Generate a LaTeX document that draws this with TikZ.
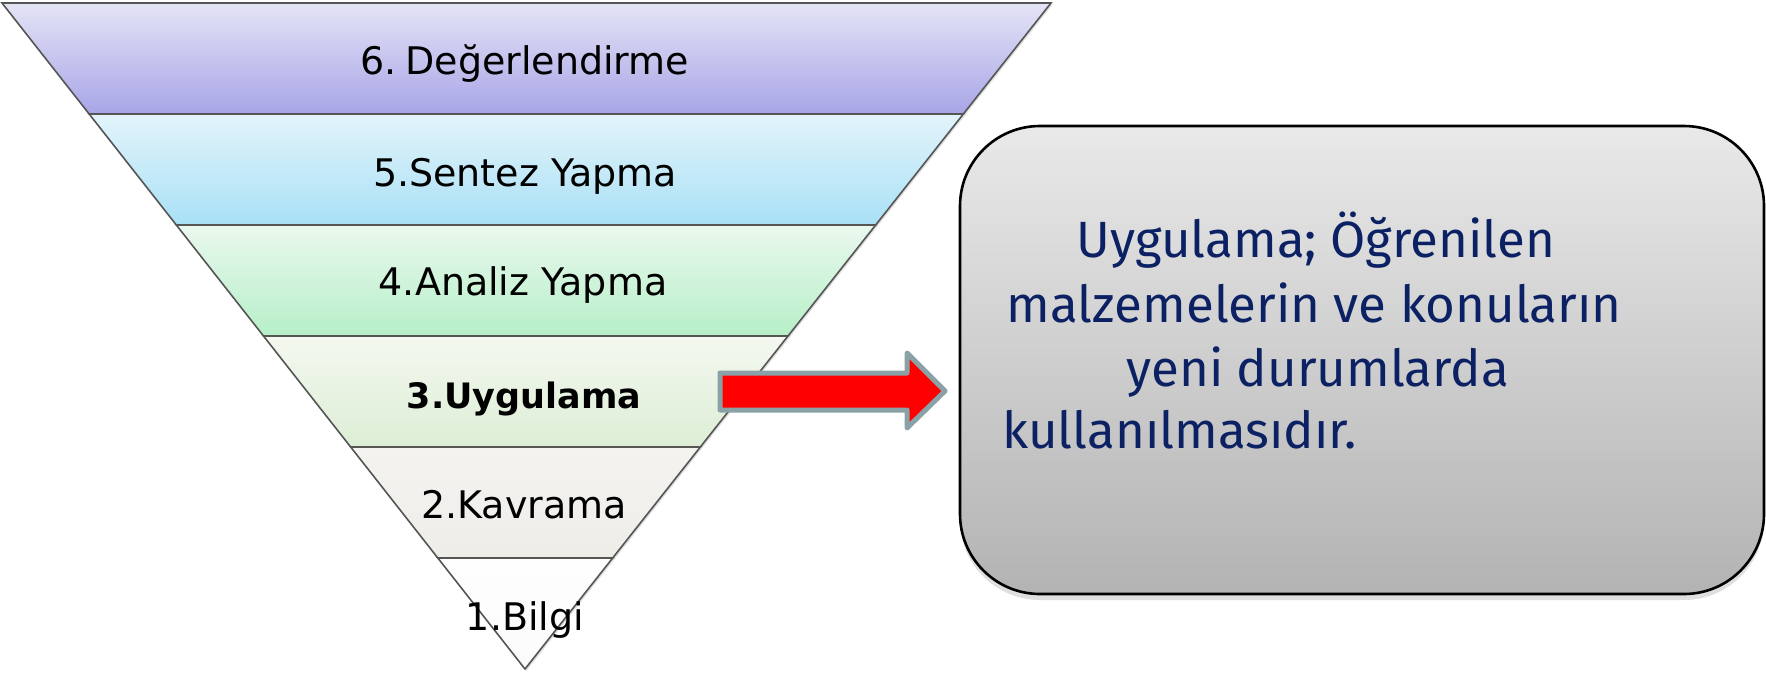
\documentclass[tikz,border=0pt]{standalone}
\usepackage{fontspec}
\setmainfont{DejaVu Sans}
\newfontfamily\boxfont{Fira Sans}
\usetikzlibrary{calc,shadows}
\definecolor{bsixtop}{HTML}{E4E4F6}
\definecolor{bsixbot}{HTML}{A8A5E7}
\definecolor{bfivetop}{HTML}{E3F4FA}
\definecolor{bfivebot}{HTML}{A9E0F6}
\definecolor{bfourtop}{HTML}{EAF8EE}
\definecolor{bfourbot}{HTML}{B6EFC8}
\definecolor{bthreetop}{HTML}{F4F8F0}
\definecolor{bthreebot}{HTML}{DDEED5}
\definecolor{btwotop}{HTML}{F4F3F0}
\definecolor{btwobot}{HTML}{EEEDE8}
\definecolor{bonetop}{HTML}{FEFEFE}
\definecolor{bonebot}{HTML}{FBFBFB}
\definecolor{bandline}{HTML}{555555}
\definecolor{navytext}{HTML}{0B2163}
\definecolor{boxtop}{HTML}{E9E9E9}
\definecolor{boxbot}{HTML}{B3B3B3}
\definecolor{arrowline}{HTML}{8AA2A7}
\begin{document}
\begin{tikzpicture}[x=0.5pt,y=-0.5pt,
  band/.style={draw=bandline, line width=0.8pt,
    drop shadow={shadow xshift=0.8pt, shadow yshift=-0.8pt, opacity=0.25}},
  lvl/.style={anchor=base, font=\fontsize{19}{22}\selectfont, text=black, inner sep=0pt},
  infobox/.style={draw=black, line width=1.3pt, rounded corners=40pt,
    top color=boxtop, bottom color=boxbot,
    drop shadow={shadow xshift=0pt, shadow yshift=-3pt, opacity=0.25}},
  infoline/.style={anchor=base west, inner sep=0pt, text=navytext,
    font=\boxfont\fontsize{25.5}{30}\selectfont},
  blockarrow/.style={fill=red, draw=arrowline, line width=2.5pt, line join=round}]
\useasboundingbox (0,0) rectangle (1766,676);
\coordinate (TL) at (2,3);
\coordinate (TR) at (1051,3);
\coordinate (A) at (525,669);
% bands, from top (k=0) to bottom (k=5)
\foreach \k/\ct/\cb in {0/bsixtop/bsixbot,1/bfivetop/bfivebot,2/bfourtop/bfourbot,3/bthreetop/bthreebot,4/btwotop/btwobot,5/bonetop/bonebot}{
  \pgfmathsetmacro{\ta}{\k/6}
  \pgfmathsetmacro{\tb}{(\k+1)/6}
  \path[band, top color=\ct, bottom color=\cb]
    ($(TL)!\ta!(A)$) -- ($(TR)!\ta!(A)$) -- ($(TR)!\tb!(A)$) -- ($(TL)!\tb!(A)$) -- cycle;
}
% labels
\node[lvl] (l6) at (525,74) {\spaceskip=0.12em 6. Değerlendirme};
\node[lvl] (l5) at (525,186) {5.Sentez Yapma};
\node[lvl] (l4) at (523,295) {4.Analiz Yapma};
\node[lvl, font=\fontsize{17.5}{22}\selectfont\bfseries] (l3) at (524,408) {3.Uygulama};
\node[lvl] (l2) at (524,518) {2.Kavrama};
\node[lvl] (l1) at (525,630) {1.Bilgi};
% info box
\path[infobox] (960,126) rectangle (1764,594);
\node[infoline] (t1) at (1076,257) {Uygulama; Öğrenilen};
\node[infoline] (t2) at (1006,322) {malzemelerin ve konuların};
\node[infoline] (t3) at (1126,386) {yeni durumlarda};
\node[infoline] (t4) at (1002,448) {kullanılmasıdır.};
% block arrow
\path[blockarrow] (720,373) -- (907,373) -- (907,353) -- (945,391) -- (907,428) -- (907,410) -- (720,410) -- cycle;
\end{tikzpicture}
\end{document}
